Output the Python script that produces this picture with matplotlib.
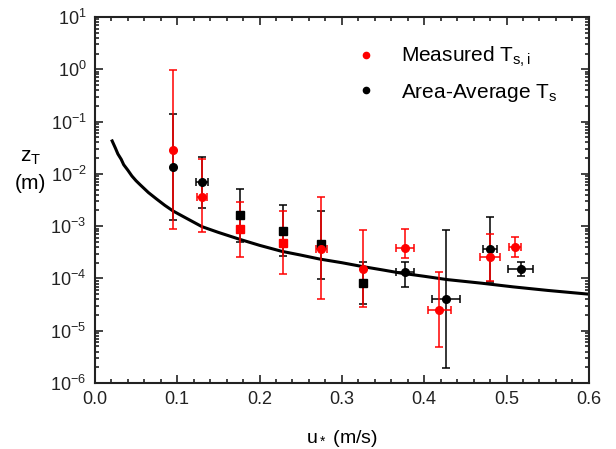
import numpy as np
import matplotlib
matplotlib.use("Agg")
import matplotlib.pyplot as plt
from matplotlib.ticker import LogLocator, MultipleLocator, NullFormatter

plt.rcParams['font.family'] = ['Liberation Sans', 'DejaVu Sans']
plt.rcParams['mathtext.fontset'] = 'custom'
plt.rcParams['mathtext.rm'] = 'Liberation Sans'
plt.rcParams['mathtext.it'] = 'Liberation Sans'

# measured T_s,i
red_u = [0.095, 0.130, 0.176, 0.228, 0.275, 0.326, 0.377, 0.418, 0.480, 0.510]
red_z = [0.029, 3.6e-3, 8.9e-4, 4.8e-4, 3.6e-4, 1.5e-4, 3.8e-4, 2.5e-5, 2.6e-4, 4.0e-4]
red_hi = [0.98, 0.019, 2.9e-3, 1.95e-3, 3.6e-3, 8.5e-4, 8.9e-4, 1.3e-4, 7.1e-4, 6.2e-4]
red_lo = [8.9e-4, 7.8e-4, 2.6e-4, 1.2e-4, 4.1e-5, 2.8e-5, 2.5e-4, 4.9e-6, 8.9e-5, 2.6e-4]
red_du = [0, 0.006, 0, 0, 0.007, 0, 0.011, 0.014, 0.012, 0.007]

# area-average T_s
blk_u = [0.095, 0.130, 0.176, 0.228, 0.275, 0.326, 0.377, 0.427, 0.480, 0.517]
blk_z = [0.0135, 7.1e-3, 1.6e-3, 8.1e-4, 4.6e-4, 8.1e-5, 1.3e-4, 4.1e-5, 3.6e-4, 1.5e-4]
blk_hi = [0.14, 0.021, 5.1e-3, 2.5e-3, 1.95e-3, 2.1e-4, 2.1e-4, 8.5e-4, 1.5e-3, 2.1e-4]
blk_lo = [1.3e-3, 2.2e-3, 5.0e-4, 2.7e-4, 9.8e-5, 3.2e-5, 6.9e-5, 1.9e-6, 8.5e-5, 1.1e-4]
blk_du = [0, 0.007, 0, 0, 0, 0, 0.011, 0.017, 0.0085, 0.015]

# model curve
curve_u = [0.021, 0.025, 0.028, 0.032, 0.035, 0.040, 0.045, 0.050, 0.055, 0.065,
           0.075, 0.085, 0.095, 0.11, 0.13, 0.15, 0.176, 0.20, 0.227, 0.25,
           0.273, 0.30, 0.324, 0.35, 0.371, 0.40, 0.428, 0.47, 0.508, 0.55, 0.6]
curve_z = [0.0427, 0.031, 0.024, 0.019, 0.015, 0.0118, 9.1e-3, 7.4e-3, 6.2e-3, 4.4e-3,
           3.3e-3, 2.5e-3, 1.95e-3, 1.45e-3, 9.8e-4, 7.6e-4, 5.6e-4, 4.3e-4, 3.3e-4, 2.8e-4,
           2.35e-4, 2.0e-4, 1.7e-4, 1.45e-4, 1.27e-4, 1.1e-4, 9.5e-5, 8.1e-5, 6.9e-5, 5.9e-5, 5.0e-5]

red_mk = ['o', 'o', 's', 's', 'o', 'o', 'o', 'o', 'o', 'o']
blk_mk = ['o', 'o', 's', 's', 's', 's', 'o', 'o', 'o', 'o']

fig = plt.figure(figsize=(6.16, 4.49), dpi=100)
ax = fig.add_axes([0.154, 0.147, 0.802, 0.815])

ax.plot(curve_u, curve_z, color='black', lw=2.2, zorder=2)

def draw(u, z, hi, lo, du, mk, col):
    for i in range(len(u)):
        yerr = [[z[i] - lo[i]], [hi[i] - z[i]]]
        xerr = [[du[i]], [du[i]]] if du[i] > 0 else None
        ax.errorbar(u[i], z[i], yerr=yerr, xerr=xerr, fmt=mk[i], color=col,
                    ms=5.5, elinewidth=1.1, capsize=2.8, capthick=1.1, zorder=3)

draw(blk_u, blk_z, blk_hi, blk_lo, blk_du, blk_mk, 'black')
draw(red_u, red_z, red_hi, red_lo, red_du, red_mk, '#ff0000')

ax.plot([], [], 'o', color='#ff0000', ms=4.5, label='Measured T$_{\\mathregular{s,i}}$')
ax.plot([], [], 'o', color='black', ms=4.5, label='Area-Average T$_{\\mathregular{s}}$')
ax.legend(loc='upper right', bbox_to_anchor=(0.975, 0.975), frameon=False,
          fontsize=15, handlelength=0.8, handletextpad=1.3, labelspacing=0.6)

ax.set_yscale('log')
ax.set_xlim(0.0, 0.6)
ax.set_ylim(1e-6, 10)
ax.xaxis.set_major_locator(MultipleLocator(0.1))
ax.xaxis.set_minor_locator(MultipleLocator(0.02))
ax.xaxis.set_major_formatter(plt.FuncFormatter(lambda v, p: f"{v:.1f}"))
ax.yaxis.set_major_locator(LogLocator(base=10, numticks=20))
ax.yaxis.set_minor_locator(LogLocator(base=10, subs=np.arange(2, 10), numticks=20))
ax.yaxis.set_minor_formatter(NullFormatter())

ax.tick_params(which='both', direction='in', top=True, right=True,
               labelsize=13, colors='#222222', width=1.2)
ax.tick_params(which='major', length=6, pad=6)
ax.tick_params(which='minor', length=3)
for s in ax.spines.values():
    s.set_linewidth(1.5)
    s.set_color('#222222')

ax.set_xlabel('u$_*$ (m/s)', fontsize=14, labelpad=14)
fig.text(0.05, 0.62, 'z$_\\mathregular{T}$\n(m)', fontsize=15, ha='center', va='center',
         linespacing=1.5)

fig.savefig('out.png', dpi=100)
